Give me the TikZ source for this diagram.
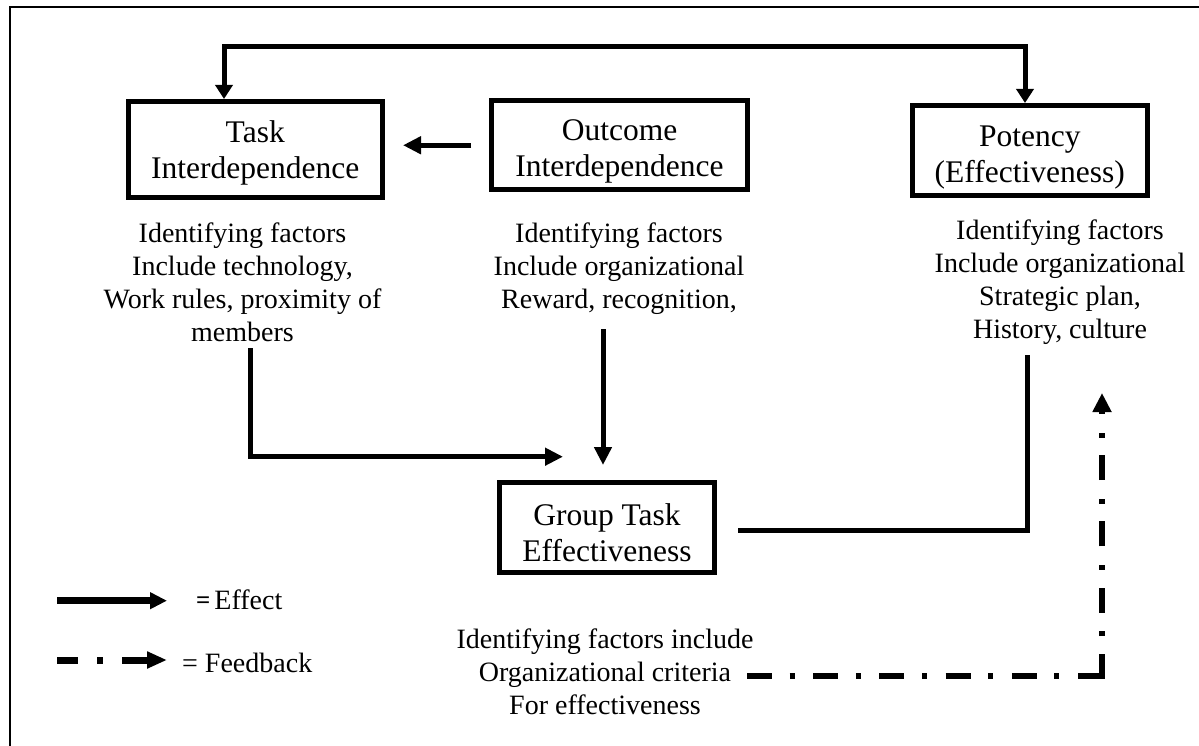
\documentclass[tikz,border=0pt]{standalone}
\usepackage{fontspec}
\setmainfont{Liberation Serif}
\usetikzlibrary{arrows.meta}
\newcommand{\lift}[1]{\rule{0pt}{#1}}
\begin{document}
\begin{tikzpicture}[x=1pt,y=-1pt,
  boxnode/.style={draw, line width=5pt, inner sep=0pt, align=center, font=\fontsize{31.5}{36}\selectfont},
  fxtext/.style={align=center, inner sep=0pt, anchor=north, font=\fontsize{28}{33}\selectfont},
  conn/.style={line width=5pt},
  arr/.style={conn, -{Triangle[length=18pt,width=17pt]}},
  arrboth/.style={conn, {Triangle[length=14pt,width=17pt]}-{Triangle[length=14pt,width=17pt]}},
  fbline/.style={line width=5.5pt, dash pattern=on 25pt off 17.6pt on 5pt off 18.6pt},
  legtext/.style={inner sep=0pt, anchor=base west, font=\fontsize{28}{33}\selectfont}
]
\useasboundingbox (0,0) rectangle (1199,746);
\clip (0,0) rectangle (1199,746);
% outer frame
\draw[line width=2pt] (10,7.5) rectangle (1230,780);

% boxes
\node[boxnode, minimum width=253.5pt, minimum height=96pt] (task) at (255.25,149.5) {\lift{29.5pt}Task\\Interdependence};
\node[boxnode, minimum width=256pt, minimum height=89.5pt] (out) at (619.5,145.25) {\lift{34pt}Outcome\\Interdependence};
\node[boxnode, minimum width=235.5pt, minimum height=90pt] (pot) at (1029.75,150.5) {\lift{34pt}Potency\\(Effectiveness)};
\node[boxnode, minimum width=215pt, minimum height=90pt] (grp) at (607,527.5) {\lift{33pt}Group Task\\Effectiveness};

% factor texts
\node[fxtext] (taskfx) at (242.5,223) {Identifying factors\\Include technology,\\Work rules, proximity of\\members};
\node[fxtext] (outfx) at (619,223) {Identifying factors\\Include organizational\\Reward, recognition,};
\node[fxtext] (potfx) at (1060,220) {Identifying factors\\Include organizational\\Strategic plan,\\History, culture};
\node[fxtext] (grpfx) at (605,629) {Identifying factors include\\Organizational criteria\\For effectiveness};

% coordinates
\coordinate (tl) at (224,47);
\coordinate (tr) at (1025,47);
\coordinate (tb) at (250,456.7);
\coordinate (tah) at (563,456.7);
\coordinate (ovx) at (603,300);
\coordinate (pvx) at (1027,530);
\coordinate (fbs) at (747,676);
\coordinate (fbc) at (1104.75,676);
\coordinate (fbb) at (1102,678.75);
\coordinate (fbt) at (1102,393);

% connectors
\draw[arrboth] (task.north -| tl) -- (tl) -- (tr) -- (pot.north -| tr);
\draw[arr, shorten <=18pt, shorten >=18.5pt] (out.west) -- (task.east |- out.west);
\draw[arr, shorten <=6pt] (taskfx.south -| tb) -- (tb) -- (tah);
\draw[arr, shorten <=14pt, shorten >=15pt] (outfx.south -| ovx) -- (grp.north -| ovx);
\draw[conn, shorten <=21pt, shorten >=10pt] (grp.east |- pvx) -- (pvx) -- (potfx.south -| pvx);
% feedback
\draw[fbline] (fbs) -- (fbc);
\draw[fbline, -{Triangle[length=19pt,width=18pt]}] (fbb) -- (fbt);

% legend
\coordinate (la1) at (57,600.7);
\coordinate (la2) at (167,600.7);
\coordinate (lb1) at (57,660);
\coordinate (lb2) at (167,660);
\draw[line width=7.5pt, -{Triangle[length=17pt,width=16pt]}] (la1) -- (la2);
\draw[line width=7pt, dash pattern=on 21pt off 19pt on 6pt off 19pt on 30pt, -{Triangle[length=20pt,width=16pt]}] (lb1) -- (lb2);
\node[legtext] (leff) at (196,609) {\raisebox{1pt}{\fontsize{25}{25}\selectfont\bfseries =}\hspace{4pt}Effect};
\node[legtext] (lfb) at (182,672) {= Feedback};
\end{tikzpicture}
\end{document}
